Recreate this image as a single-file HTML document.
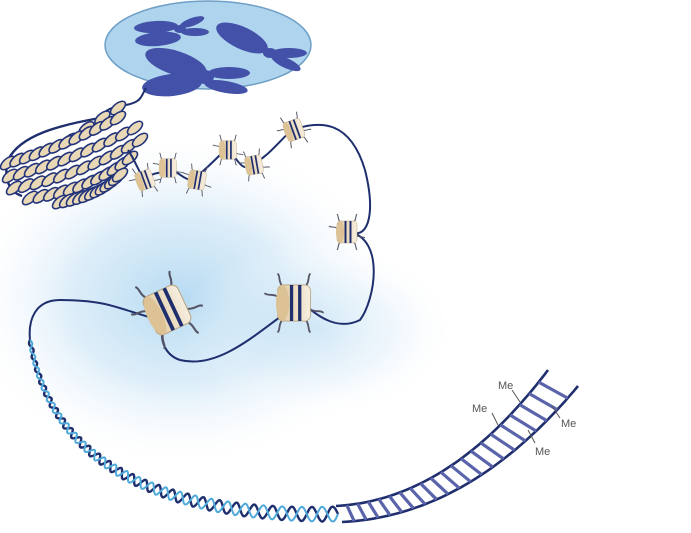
<!DOCTYPE html>
<html><head><meta charset="utf-8"><style>
html,body{margin:0;padding:0;background:#fff;width:691px;height:533px;overflow:hidden}
svg{display:block}
text{font-family:"Liberation Sans",sans-serif;font-size:11px;fill:#555}
</style></head><body>
<svg id="fig" width="691" height="533" viewBox="0 0 691 533">
<defs>
<radialGradient id="glow" cx="0.5" cy="0.5" r="0.5">
<stop offset="0" stop-color="#b2d8f1" stop-opacity="0.95"/>
<stop offset="0.5" stop-color="#d2e8f7" stop-opacity="0.75"/>
<stop offset="1" stop-color="#ffffff" stop-opacity="0"/>
</radialGradient>
<linearGradient id="nuc" x1="0" x2="1"><stop offset="0" stop-color="#e0c9a0"/><stop offset="1" stop-color="#f6eee0"/></linearGradient>
</defs>
<ellipse cx="180" cy="300" rx="220" ry="170" fill="url(#glow)"/>
<ellipse cx="320" cy="330" rx="140" ry="90" fill="url(#glow)" opacity="0.5"/>

<g>
<ellipse cx="208" cy="45" rx="103" ry="44" fill="#aed4ee" stroke="#6e9fc6" stroke-width="1.5"/>
<g fill="#4352a8" stroke="none">
<ellipse cx="156" cy="27" rx="22" ry="6" transform="rotate(-3 156 27)"/>
<ellipse cx="158" cy="39" rx="23" ry="7" transform="rotate(-5 158 39)"/>
<ellipse cx="192" cy="22" rx="13" ry="4" transform="rotate(-20 192 22)"/>
<ellipse cx="195" cy="32" rx="14" ry="4"/>
<ellipse cx="180" cy="29" rx="6" ry="4"/>
<ellipse cx="242" cy="38" rx="28" ry="11" transform="rotate(25 242 38)"/>
<ellipse cx="289" cy="53" rx="18" ry="5"/>
<ellipse cx="286" cy="63" rx="16" ry="5" transform="rotate(25 286 63)"/>
<ellipse cx="270" cy="53" rx="7" ry="5"/>
<ellipse cx="176" cy="63" rx="32" ry="12" transform="rotate(18 176 63)"/>
<ellipse cx="172" cy="85" rx="30" ry="11" transform="rotate(-6 172 85)"/>
<ellipse cx="229" cy="73" rx="21" ry="6"/>
<ellipse cx="226" cy="87" rx="22" ry="6" transform="rotate(10 226 87)"/>
<ellipse cx="205" cy="77" rx="9" ry="7"/>
</g>
<path d="M146,88 C140,98 142,103 120,106 C108,108 104,112 100,118" fill="none" stroke="#1f2f6e" stroke-width="2"/>
</g>

<g id="fiber">
<path d="M100,118 C60,125 20,135 8,160 C3,180 10,192 22,196" fill="none" stroke="#1f2f6e" stroke-width="2.4"/>
</g>

<g id="linker" fill="none" stroke="#1f2f6e" stroke-width="2">
<path d="M128,150 C135,160 140,175 145,180 C155,170 160,175 165,170 C175,165 185,185 195,178 C205,170 215,160 225,150 C235,150 240,175 252,165 C270,155 280,140 292,130 C320,120 350,120 365,170 C375,210 370,240 350,232"/>
<path d="M350,232 C385,240 375,300 360,320 C340,330 320,320 300,300"/>
<path d="M290,310 C260,330 220,370 180,360 C165,355 160,340 163,330"/>
<path d="M160,320 C120,310 110,300 60,300 C35,300 28,320 30,340"/>
</g>

<g id="nucs"></g>
<g id="helix"></g>
<g id="ladder"></g>

<g stroke="#555" stroke-width="1">
<line x1="512" y1="390" x2="520" y2="402"/><text x="498" y="389" stroke="none">Me</text>
<line x1="492" y1="413" x2="498" y2="425"/><text x="472" y="412" stroke="none">Me</text>
<line x1="552" y1="406" x2="560" y2="418"/><text x="561" y="427" stroke="none">Me</text>
<line x1="528" y1="430" x2="535" y2="443"/><text x="535" y="455" stroke="none">Me</text>
</g>
</svg>
<script>
const NS="http://www.w3.org/2000/svg";
function mk(tag,attrs,parent){const e=document.createElementNS(NS,tag);for(const k in attrs)e.setAttribute(k,attrs[k]);parent.appendChild(e);return e;}
function q(p0,p1,p2,t){return [(1-t)*(1-t)*p0[0]+2*t*(1-t)*p1[0]+t*t*p2[0],(1-t)*(1-t)*p0[1]+2*t*(1-t)*p1[1]+t*t*p2[1]];}
// chromatin fiber rows
const fg=document.getElementById('fiber');
const rows=[[[70,140],[95,122],[118,108]],[[8,163],[60,148],[118,118]],[[10,176],[70,162],[135,128]],[[14,188],[80,176],[140,140]],[[30,198],[90,190],[130,158]],[[60,202],[100,196],[120,175]]];
rows.forEach((R,ri)=>{
  const n=ri==0?4:12;
  for(let i=0;i<n;i++){const t=i/(n-1);const [x,y]=q(R[0],R[1],R[2],t);
    const e=mk('ellipse',{cx:x.toFixed(1),cy:y.toFixed(1),rx:9,ry:4.5,transform:`rotate(-40 ${x.toFixed(1)} ${y.toFixed(1)})`,fill:'#e8d8b6',stroke:'#23347a',"stroke-width":1.6},fg);
    
    }
});
// nucleosomes: x,y,scale,rotation
const nucX=[145,168,197,228,254,294,347,167,294];
const nucY=[180,168,180,150,165,130,232,310,303];
const nucS=[0.42,0.42,0.42,0.42,0.42,0.45,0.5,0.95,0.82];
const nucR=[-20,0,10,0,-10,-20,0,-25,0];
const ng=document.getElementById('nucs');
for(let i=0;i<nucX.length;i++){
  const g=mk('g',{transform:`translate(${nucX[i]},${nucY[i]}) rotate(${nucR[i]}) scale(${nucS[i]})`},ng);
  
  
  mk('path',{d:'M-14,-20 C-20,-28 -16,-32 -20,-36 M14,-20 C20,-28 16,-32 20,-36 M-14,20 C-20,28 -16,32 -20,36 M14,20 C20,28 16,32 20,36 M-20,-8 C-28,-12 -32,-8 -36,-12 M20,8 C28,12 32,8 36,12',fill:'none',stroke:'#556',"stroke-width":2.2},g);
  mk('rect',{x:-20,y:-22,width:40,height:44,rx:7,fill:'url(#nuc)',stroke:'#b9a27a'},g);
  mk('ellipse',{cx:-14,cy:0,rx:8,ry:22,fill:'#dcc294'},g);
  mk('path',{d:'M-3,-22 L-3,22 M7,-22 L7,22',stroke:'#1f2f6e',"stroke-width":4},g);
}
// helix along quadratic bezier
const hg=document.getElementById('helix');
const turns=26;
for(let s=0;s<2;s++){
  let d='';
  for(let i=0;i<=500;i++){const t=i/500;const [x,y]=q([30,340],[60,520],[338,514],t);const [x2,y2]=q([30,340],[60,520],[338,514],Math.min(1,t+0.001));
    let nx=-(y2-y),ny=(x2-x);const L=Math.hypot(nx,ny)||1;nx/=L;ny/=L;
    const amp=1.5+6*t;const off=amp*Math.sin(t*turns*2*Math.PI+s*Math.PI);
    d+=(i?'L':'M')+(x+nx*off).toFixed(1)+','+(y+ny*off).toFixed(1);}
  mk('path',{d,fill:'none',stroke:s?'#4fa9d9':'#1f2f6e',"stroke-width":s?2:2.4},hg);
}
// ladder
const lg=document.getElementById('ladder');
const A=[[336,506],[450,500],[548,370]],B=[[342,522],[470,516],[578,386]];
for(const S of [A,B]){let d='';for(let i=0;i<=50;i++){const [x,y]=q(S[0],S[1],S[2],i/50);d+=(i?'L':'M')+x.toFixed(1)+','+y.toFixed(1);}
  mk('path',{d,fill:'none',stroke:'#1f2f6e',"stroke-width":2.6},lg);}
for(let i=1;i<21;i++){const t=i/21;const a=q(A[0],A[1],A[2],t),b=q(B[0],B[1],B[2],t);
  const r=mk('line',{x1:a[0],y1:a[1],x2:b[0],y2:b[1],stroke:'#5a64ab',"stroke-width":3.2},lg);
  
  }
</script>
</body></html>
